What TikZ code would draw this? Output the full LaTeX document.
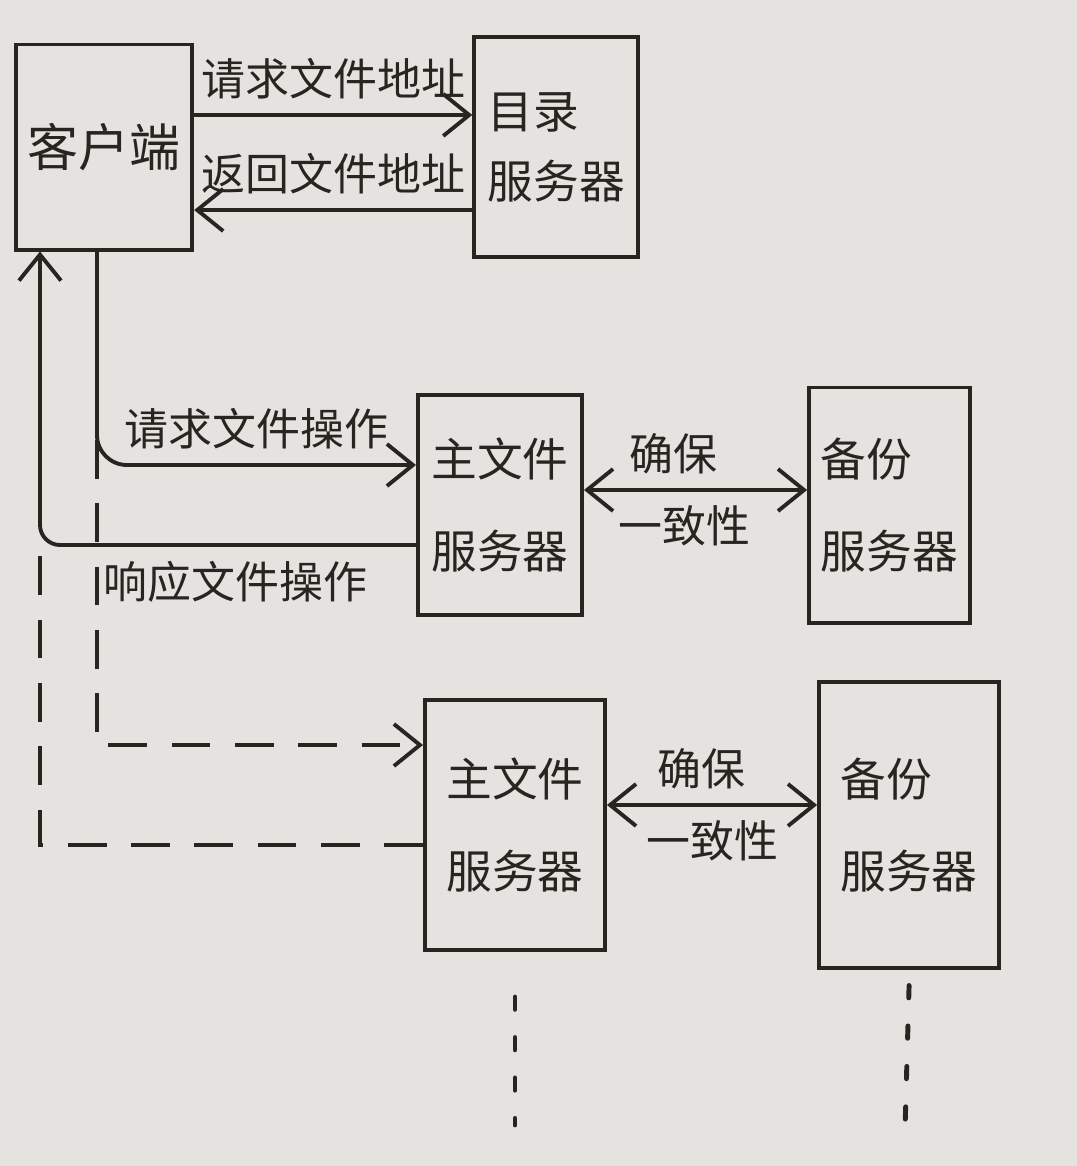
\documentclass[tikz,border=0pt]{standalone}
\usepackage{fontspec}
\newfontfamily\cjk{Noto Sans CJK SC}
\usetikzlibrary{positioning,arrows.meta}
\definecolor{paper}{RGB}{229,227,224}
\definecolor{ink}{RGB}{40,36,32}

\begin{document}
\begin{tikzpicture}[x=0.01cm, y=-0.01cm, >={Straight Barb[length=2.6mm,width=4.2mm]},
    box/.style={rectangle, draw=ink, text=ink, line width=1.1pt, align=left,
        font=\cjk\fontsize{13}{16}\selectfont},
    link/.style={draw=ink, line width=1.1pt},
    lbl/.style={text=ink, font=\cjk\fontsize{12.5}{15}\selectfont, inner sep=4pt},
    future/.style={link, dash pattern=on 11pt off 7pt},
    moredots/.style={draw=ink, line width=1.4pt, line cap=round, dash pattern=on 3.5pt off 8pt}]

\fill[paper] (0,0) rectangle (1077,1166);
\useasboundingbox (0,0) rectangle (1077,1166);

\node[box, minimum width=1.72cm, minimum height=2.05cm, font=\cjk\fontsize{14.5}{17}\selectfont] (client) at (104,147) {客户端};
\node[box, minimum width=1.64cm, minimum height=2.2cm, right=2.78cm of client] (dir) {目录\\[4pt]服务器};
\node[box, minimum width=1.64cm, minimum height=2.2cm] (main1) at (500,505) {主文件\\[10pt]服务器};
\node[box, minimum width=1.6cm, minimum height=2.35cm, right=2.23cm of main1] (backup1) {备份\\[10pt]服务器};
\node[box, minimum width=1.8cm, minimum height=2.5cm] (main2) at (515,825) {主文件\\[10pt]服务器};
\node[box, minimum width=1.8cm, minimum height=2.85cm, right=2.1cm of main2] (backup2) {备份\\[10pt]服务器};

% address lookup
\draw[link, ->] ([yshift=3.2mm]client.east) -- node[lbl, above]{请求文件地址} ([yshift=3.2mm]dir.west);
\draw[link, ->] ([yshift=-6.3mm]dir.west) -- node[lbl, above]{返回文件地址} ([yshift=-6.3mm]client.east);

% file operations
\coordinate (opbend) at (97,465);
\coordinate (opsplit) at (97,440);
\coordinate (opnext) at (90,745);
\draw[link, ->, rounded corners=0.3cm] (client.south -| opbend) |- node[lbl, above, pos=0.75]{请求文件操作} (main1.west |- opbend);
\draw[future, ->] (opsplit) |- (main2.west |- opnext);

\coordinate (respbend) at (40,545);
\coordinate (respnext) at (40,845);
\draw[link, ->, rounded corners=0.2cm] (main1.west |- respbend) -| node[lbl, below, pos=0.24]{响应文件操作} (client.south -| respbend);
\draw[future] (main2.west |- respnext) -| (respbend);

% replication
\draw[link, <->] ([yshift=1.5mm]main1.east) -- node[lbl, above, pos=0.4]{确保} node[lbl, below, pos=0.45]{一致性} ([yshift=1.5mm]backup1.west);
\draw[link, <->] ([yshift=2mm]main2.east) -- node[lbl, above, pos=0.45]{确保} node[lbl, below, pos=0.5]{一致性} ([yshift=2mm]backup2.west);

% more servers
\coordinate (more1) at (515,1125);
\coordinate (more2) at (905,1130);
\draw[moredots] ([yshift=-4.5mm]main2.south) -- (more1);
\draw[moredots] ([yshift=-1.6mm]backup2.south) -- (more2);

\end{tikzpicture}
\end{document}
